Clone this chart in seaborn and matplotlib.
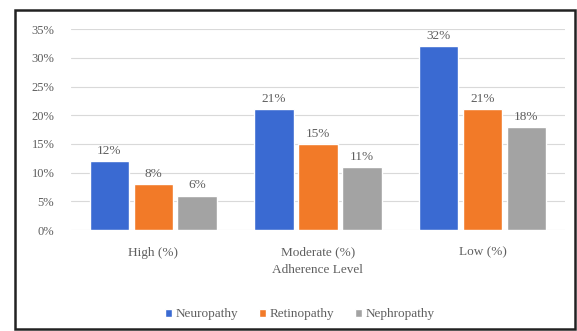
import matplotlib
matplotlib.use("Agg")
import matplotlib.pyplot as plt
from matplotlib.patches import Rectangle
import seaborn as sns
import pandas as pd

# data
levels = ["High (%)", "Moderate (%)", "Low (%)"]
complications = ["Neuropathy", "Retinopathy", "Nephropathy"]
neuropathy = [12, 21, 32]
retinopathy = [8, 15, 21]
nephropathy = [6, 11, 18]
yticks = [0, 5, 10, 15, 20, 25, 30, 35]

rows = []
for name, vals in zip(complications, [neuropathy, retinopathy, nephropathy]):
    for lvl, v in zip(levels, vals):
        rows.append({"level": lvl, "complication": name, "value": v})
df = pd.DataFrame(rows)

sns.set_style("white")
plt.rcParams["font.family"] = ["Liberation Serif", "DejaVu Serif"]
txt = "#5F5F5F"

fig = plt.figure(figsize=(5.77, 3.31), dpi=100)
ax = fig.add_axes([0.123, 0.305, 0.856, 0.607])

palette = ["#3A6AD2", "#F27A28", "#A3A3A3"]
sns.barplot(data=df, x="level", y="value", hue="complication",
            hue_order=complications, palette=palette, width=0.8, gap=0.1,
            saturation=1, ax=ax, legend=True)

for cont in ax.containers:
    ax.bar_label(cont, labels=[f"{int(v)}%" for v in cont.datavalues],
                 padding=3, fontsize=9.5, color=txt)

ax.set_ylim(0, 35)
ax.set_yticks(yticks)
ax.set_yticklabels([f"{t}%" for t in yticks], fontsize=9, color=txt)
ax.tick_params(axis="x", labelsize=9.5, colors=txt, length=0, pad=12)
ax.tick_params(axis="y", length=0, pad=12)
ax.yaxis.grid(True, color="#D9D9D9", linewidth=0.8)
ax.set_axisbelow(True)
for s in ax.spines.values():
    s.set_visible(False)
ax.set_xlabel("Adherence Level", fontsize=9.5, color=txt, labelpad=4)
ax.set_ylabel("")

handles, labels = ax.get_legend_handles_labels()
ax.legend_.remove()
fig.legend(handles, labels, loc="center", bbox_to_anchor=(0.52, 0.05), ncol=3,
           frameon=False, prop={"family": ["Liberation Serif"], "size": 9.5},
           labelcolor=txt, handlelength=0.5,
           handleheight=0.5, handletextpad=0.3, columnspacing=1.6)

# chart frame
fig.patches.append(Rectangle((0.026, 0.006), 0.97, 0.964, transform=fig.transFigure,
                             fill=False, edgecolor="#222222", linewidth=1.8))

fig.savefig("out.png", dpi=100)
